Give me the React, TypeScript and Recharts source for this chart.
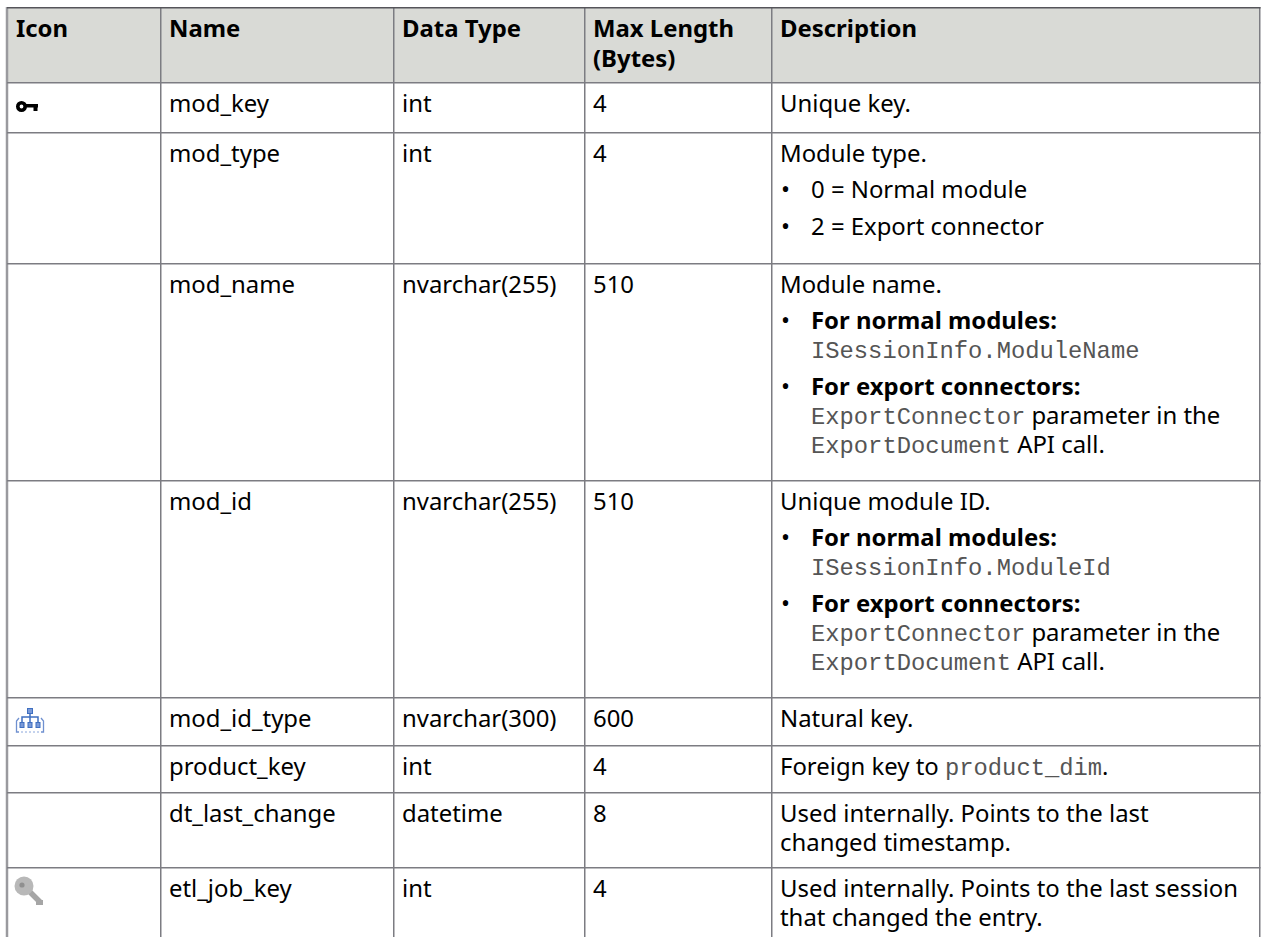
import { ScatterChart, Scatter, XAxis, YAxis, ReferenceArea, ReferenceLine } from 'recharts';

// table text, one list per column.
// `x` = mono, *x* = bold, "- " starts a bullet, "  " continues a bullet, "~ " continues a plain paragraph
const columnTitles = [['Icon'], ['Name'], ['Data Type'], ['Max Length', '(Bytes)'], ['Description']];
const icons = ['key', '', '', '', 'hierarchy', '', '', 'greyKey'];
const names = ['mod_key', 'mod_type', 'mod_name', 'mod_id', 'mod_id_type', 'product_key', 'dt_last_change', 'etl_job_key'];
const dataTypes = ['int', 'int', 'nvarchar(255)', 'nvarchar(255)', 'nvarchar(300)', 'int', 'datetime', 'int'];
const maxLengths = ['4', '4', '510', '510', '600', '4', '8', '4'];
const descriptions = [
  ['Unique key.'],
  ['Module type.', '- 0 = Normal module', '- 2 = Export connector'],
  ['Module name.', '- *For normal modules:*', '  `ISessionInfo.ModuleName`', '- *For export connectors:*', '  `ExportConnector` parameter in the', '  `ExportDocument` API call.'],
  ['Unique module ID.', '- *For normal modules:*', '  `ISessionInfo.ModuleId`', '- *For export connectors:*', '  `ExportConnector` parameter in the', '  `ExportDocument` API call.'],
  ['Natural key.'],
  ['Foreign key to `product_dim`.'],
  ['Used internally. Points to the last', '~ changed timestamp.'],
  ['Used internally. Points to the last session', '~ that changed the entry.'],
];

// layout
const W = 1261;
const H = 937;
const colLines = [7, 160, 393, 584, 771, 1259];
const rowLines = [7, 82, 132, 263, 480, 697, 745, 792, 867];
const SANS = '"Noto Sans", sans-serif';
const MONO = '"Liberation Mono", monospace';
const FONT_SIZE = 23.9;
const LINE_COLOR = '#7c7c82';

// distance from the row top to each text line
const baselineOffset = (lines: string[], i: number) => {
  let y = 29.5;
  for (let k = 1; k <= i; k++) y += lines[k].startsWith('- ') ? 36.8 : 29;
  return y;
};

const cells: any[] = [];
columnTitles.forEach((title, c) =>
  title.forEach((line, i) => cells.push({ x: colLines[c] + 9, y: rowLines[0] + 30 + i * 30, text: line, bold: true })),
);
[names, dataTypes, maxLengths].forEach((col, c) =>
  col.forEach((text, r) => cells.push({ x: colLines[c + 1] + 9, y: rowLines[r + 1] + 30, text })),
);
descriptions.forEach((lines, r) =>
  lines.forEach((line, i) => {
    const y = Math.round(rowLines[r + 1] + baselineOffset(lines, i));
    const x = colLines[4] + 9;
    if (line.startsWith('- ')) {
      cells.push({ x: x + 1, y, text: '•' });
      cells.push({ x: x + 31, y, text: line.slice(2) });
    } else if (line.startsWith('  ')) {
      cells.push({ x: x + 31, y, text: line.slice(2) });
    } else if (line.startsWith('~ ')) {
      cells.push({ x, y, text: line.slice(2) });
    } else {
      cells.push({ x, y, text: line });
    }
  }),
);
const iconPoints = icons
  .map((kind, r) => ({ kind, x: colLines[0] + 9, y: rowLines[r + 1] + 30 }))
  .filter((d) => d.kind);

const runs = (text: string) =>
  text.split(/(`[^`]*`|\*[^*]*\*)/).filter(Boolean).map((part) => {
    if (part[0] === '`') return { t: part.slice(1, -1), mono: true };
    if (part[0] === '*') return { t: part.slice(1, -1), bold: true };
    return { t: part };
  });

const CellText = (props: any) => {
  const { cx, cy, text, bold } = props;
  return (
    <text x={cx} y={cy} fontSize={FONT_SIZE} fontFamily={SANS} fontWeight={bold ? 700 : 400} fill="#000" xmlSpace="preserve">
      {runs(text).map((r: any, i) => (
        <tspan key={i} fontFamily={r.mono ? MONO : SANS} fontSize={r.mono ? 23.8 : FONT_SIZE} fontWeight={r.bold || bold ? 700 : 400} fill={r.mono ? '#555' : '#000'}>
          {r.t}
        </tspan>
      ))}
    </text>
  );
};

const RowIcon = (props: any) => {
  const { cx, cy, kind } = props;
  if (kind === 'key') {
    return (
      <g transform={`translate(${cx},${cy})`}>
        <circle cx={5.5} cy={-5.5} r={3.7} fill="none" stroke="#000" strokeWidth={3.6} />
        <rect x={10} y={-8} width={12} height={3.5} fill="#000" />
        <rect x={17.5} y={-5} width={4} height={4} fill="#000" />
      </g>
    );
  }
  if (kind === 'hierarchy') {
    return (
      <g transform={`translate(${cx},${cy})`} stroke="#3f6fc0" fill="#7a9ad8" strokeWidth={1}>
        <rect x={11.5} y={-18.5} width={5} height={5} />
        <path d="M14 -13.5V-5M6 -5V-10H22V-5" fill="none" strokeWidth={1.5} />
        <rect x={4} y={-4.5} width={4} height={5} />
        <rect x={12} y={-4.5} width={4} height={5} />
        <rect x={20} y={-4.5} width={4} height={5} />
        <path d="M3 -9 L0.5 -6 V5 H3 M25 -9 L27.5 -6 V5 H25" fill="none" stroke="#6f90d0" strokeWidth={1.3} />
        <path d="M5 5H23" fill="none" stroke="#8aa6dc" strokeWidth={1} strokeDasharray="2 2" />
      </g>
    );
  }
  return (
    <g transform={`translate(${cx},${cy})`}>
      <path d="M12 -7 L24 5" stroke="#a6a6a6" strokeWidth={5.5} />
      <rect x={20} y={3} width={7} height={5} fill="#a6a6a6" />
      <circle cx={8} cy={-11} r={9.5} fill="#b8b8b8" />
      <circle cx={6} cy={-12} r={2.6} fill="#8f8f8f" />
    </g>
  );
};

export default function App() {
  return (
    <div style={{ position: 'absolute', left: 0, top: 0, width: W, height: H, background: '#fff' }}>
      <ScatterChart width={W} height={H} margin={{ top: 0, right: 0, bottom: 0, left: 0 }}>
        <XAxis type="number" dataKey="x" domain={[0, W]} hide />
        <YAxis type="number" dataKey="y" domain={[0, H]} reversed hide />
        <ReferenceArea x1={colLines[0]} x2={colLines[5]} y1={rowLines[0]} y2={rowLines[1]} fill="#d9dad6" fillOpacity={1} stroke="none" />
        {colLines.map((x, i) => (
          <ReferenceLine
            key={x}
            segment={[{ x: i === 0 ? x : x + 0.75, y: rowLines[0] }, { x: i === 0 ? x : x + 0.75, y: H }]}
            stroke={i === 0 ? '#9a9a9e' : LINE_COLOR}
            strokeWidth={i === 0 ? 2.5 : 1.5}
          />
        ))}
        {rowLines.map((y, i) => (
          <ReferenceLine
            key={y}
            segment={[{ x: colLines[0], y: y + 0.75 }, { x: colLines[5] + 1.5, y: y + 0.75 }]}
            stroke={i === 0 ? '#55555a' : LINE_COLOR}
            strokeWidth={1.5}
          />
        ))}
        <Scatter data={cells} isAnimationActive={false} shape={CellText} />
        <Scatter data={iconPoints} isAnimationActive={false} shape={RowIcon} />
      </ScatterChart>
    </div>
  );
}
